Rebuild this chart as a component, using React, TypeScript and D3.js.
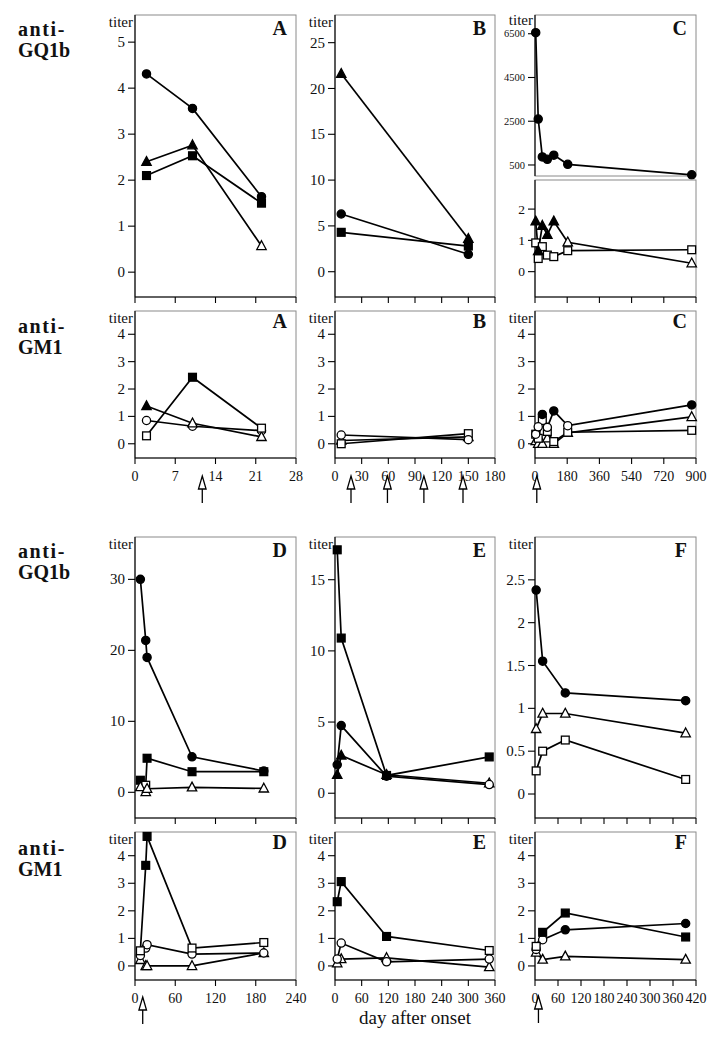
import React from "react";
import * as d3 from "d3";

// ---------- DATA ----------
const ticksA = [0, 7, 14, 21, 28];
const ticksB = [0, 30, 60, 90, 120, 150, 180];
const ticksC = [0, 180, 360, 540, 720, 900];
const ticksD = [0, 60, 120, 180, 240];
const ticksE = [0, 60, 120, 180, 240, 300, 360];
const ticksF = [0, 60, 120, 180, 240, 300, 360, 420];

const yTicksGQ_A = [0, 1, 2, 3, 4, 5];
const yTicksGQ_B = [0, 5, 10, 15, 20, 25];
const yTicksGQ_Cup = [500, 2500, 4500, 6500];
const yTicksGQ_Clo = [0, 1, 2];
const yTicksGM = [0, 1, 2, 3, 4];
const yTicksGQ_D = [0, 10, 20, 30];
const yTicksGQ_E = [0, 5, 10, 15];
const yTicksGQ_F = [0, 0.5, 1, 1.5, 2, 2.5];

const daysA = [2, 10, 22];
const daysB = [7, 150];
const daysC = [4, 18, 41, 69, 105, 183, 876];
const daysD = [8, 16, 18, 85, 192];
const daysE = [5, 14, 116, 347];
const daysF = [3, 20, 79, 393];

// anti-GQ1b
const gqA_circle = [4.31, 3.56, 1.64];
const gqA_circleFill = [1, 1, 1];
const gqA_triangle = [2.4, 2.76, 0.57];
const gqA_triangleFill = [1, 1, 0];
const gqA_square = [2.1, 2.53, 1.5];
const gqA_squareFill = [1, 1, 1];

const gqB_triangle = [21.6, 3.6];
const gqB_triangleFill = [1, 1];
const gqB_circle = [6.3, 1.9];
const gqB_circleFill = [1, 1];
const gqB_square = [4.3, 2.8];
const gqB_squareFill = [1, 1];

const gqC_circle = [6550, 2600, 870, 760, 950, 530, 50];
const gqC_circleFill = [1, 1, 1, 1, 1, 1, 1];
const gqC_triangle = [1.61, 0.66, 1.47, 1.18, 1.61, 0.94, 0.27];
const gqC_triangleFill = [1, 1, 1, 1, 1, 0, 0];
const gqC_square = [0.92, 0.42, 0.8, 0.53, 0.48, 0.67, 0.7];
const gqC_squareFill = [0, 0, 0, 0, 0, 0, 0];

const gqD_circle = [30, 21.4, 19, 5.0, 3.0];
const gqD_circleFill = [1, 1, 1, 1, 1];
const gqD_square = [1.7, 1.0, 4.8, 2.9, 2.9];
const gqD_squareFill = [1, 0, 1, 1, 1];
const gqD_triangle = [0.75, 0.05, 0.5, 0.7, 0.55];
const gqD_triangleFill = [0, 0, 0, 0, 0];

const gqE_square = [17.1, 10.9, 1.25, 2.55];
const gqE_squareFill = [1, 1, 1, 1];
const gqE_circle = [2.0, 4.75, 1.2, 0.61];
const gqE_circleFill = [1, 1, 1, 0];
const gqE_triangle = [1.3, 2.65, 1.3, 0.7];
const gqE_triangleFill = [1, 1, 1, 0];

const gqF_circle = [2.38, 1.55, 1.18, 1.09];
const gqF_circleFill = [1, 1, 1, 1];
const gqF_triangle = [0.76, 0.94, 0.94, 0.71];
const gqF_triangleFill = [0, 0, 0, 0];
const gqF_square = [0.27, 0.5, 0.63, 0.17];
const gqF_squareFill = [0, 0, 0, 0];

// anti-GM1
const gmA_square = [0.29, 2.43, 0.57];
const gmA_squareFill = [0, 1, 0];
const gmA_triangle = [1.38, 0.75, 0.25];
const gmA_triangleFill = [1, 0, 0];
const gmA_circle = [0.85, 0.64, 0.48];
const gmA_circleFill = [0, 0, 0];

const gmB_circle = [0.32, 0.15];
const gmB_circleFill = [0, 0];
const gmB_triangle = [0.12, 0.25];
const gmB_triangleFill = [0, 0];
const gmB_square = [0.0, 0.37];
const gmB_squareFill = [0, 0];

const gmC_circle = [0.35, 0.62, 1.07, 0.6, 1.2, 0.66, 1.42];
const gmC_circleFill = [0, 0, 1, 0, 1, 0, 1];
const gmC_triangle = [0.1, 0.0, 0.0, 0.2, 0.0, 0.4, 0.98];
const gmC_triangleFill = [0, 0, 0, 0, 0, 0, 0];
const gmC_square = [0.35, 0.2, 0.85, 0.45, 0.08, 0.42, 0.49];
const gmC_squareFill = [0, 0, 0, 0, 0, 0, 0];

const gmD_square = [0.55, 3.65, 4.7, 0.65, 0.85];
const gmD_squareFill = [0, 1, 1, 0, 0];
const gmD_circle = [0.38, 0.65, 0.77, 0.43, 0.47];
const gmD_circleFill = [0, 0, 0, 0, 0];
const gmD_triangle = [0.22, 0.0, 0.0, 0.0, 0.47];
const gmD_triangleFill = [0, 0, 0, 0, 0];

const gmE_square = [2.33, 3.06, 1.07, 0.56];
const gmE_squareFill = [1, 1, 1, 0];
const gmE_circle = [0.25, 0.83, 0.15, 0.25];
const gmE_circleFill = [0, 0, 0, 0];
const gmE_triangle = [0.1, 0.25, 0.29, -0.04];
const gmE_triangleFill = [0, 0, 0, 0];

const gmF_square = [0.71, 1.22, 1.92, 1.05];
const gmF_squareFill = [0, 1, 1, 1];
const gmF_circle = [0.6, 0.95, 1.31, 1.54];
const gmF_circleFill = [0, 0, 1, 1];
const gmF_triangle = [0.49, 0.23, 0.35, 0.23];
const gmF_triangleFill = [0, 0, 0, 0];

// treatment arrows (day)
const arrowsA = [11.7];
const arrowsB = [18, 59, 100, 144];
const arrowsC = [10];
const arrowsD = [11.5];
const arrowsF = [9];

// ---------- LAYOUT ----------
const FONT = "Liberation Serif, DejaVu Serif, serif";
const COLS = [
  [135, 296],
  [335, 495],
  [535, 696],
];

type Series = { shape: string; values: number[]; filled: number[] };
const S = (shape: string, values: number[], filled: number[]): Series => ({ shape, values, filled });

function Marker({ shape, x, y, filled }: { shape: string; x: number; y: number; filled: boolean }) {
  const fill = filled ? "#000" : "#fff";
  const common = { fill, stroke: "#000", strokeWidth: 1.3 };
  if (shape === "circle") return <circle cx={x} cy={y} r={4.1} {...common} />;
  if (shape === "square") return <rect x={x - 3.9} y={y - 3.9} width={7.8} height={7.8} {...common} />;
  const p = `M${x},${y - 5.2}L${x + 4.7},${y + 3.6}L${x - 4.7},${y + 3.6}Z`;
  return <path d={p} {...common} />;
}

function Frame(props: {
  col: number;
  top: number;
  bottom: number;
  xMax: number;
  xTicks: number[];
  yDomain: [number, number];
  yTicks: number[];
  days: number[];
  series: Series[];
  letter?: string;
  letterDy?: number;
  titer?: boolean;
  titerDy?: number;
  xAxis?: boolean;
  xLabels?: boolean;
  ySize?: number;
  arrows?: number[];
  arrowTop?: number;
}) {
  const [left, right] = COLS[props.col];
  const { top, bottom } = props;
  const sx = d3.scaleLinear().domain([0, props.xMax]).range([left, right]);
  const sy = d3.scaleLinear().domain(props.yDomain).range([bottom, top]);
  const line = d3
    .line<[number, number]>()
    .x((d) => sx(d[0]))
    .y((d) => sy(d[1]));
  const ySize = props.ySize ?? 15;
  const fmt = (v: number) => String(v);
  return (
    <g>
      <rect x={left} y={top} width={right - left} height={bottom - top} fill="none" stroke="#8a8a8a" strokeWidth={1} />
      <line x1={left} x2={left} y1={top} y2={bottom} stroke="#000" strokeWidth={1.1} />
      {props.yTicks.map((t) => (
        <g key={"y" + t}>
          <line x1={left - 7} x2={left} y1={sy(t)} y2={sy(t)} stroke="#000" strokeWidth={1.1} />
          <text x={left - 10} y={sy(t) + ySize * 0.34} textAnchor="end" fontSize={ySize} fontFamily={FONT} fill="#111">
            {fmt(t)}
          </text>
        </g>
      ))}
      {props.xAxis && (
        <g>
          <line x1={left} x2={right} y1={bottom} y2={bottom} stroke="#000" strokeWidth={1.1} />
          {props.xTicks.map((t) => (
            <g key={"x" + t}>
              <line x1={sx(t)} x2={sx(t)} y1={bottom} y2={bottom + 6} stroke="#000" strokeWidth={1.1} />
              {props.xLabels && (
                <text x={sx(t)} y={bottom + 23} textAnchor="middle" fontSize={14} fontFamily={FONT} fill="#111">
                  {t}
                </text>
              )}
            </g>
          ))}
        </g>
      )}
      {props.series.map((s, i) => (
        <path
          key={"l" + i}
          d={line(props.days.map((d, j) => [d, s.values[j]] as [number, number])) || ""}
          fill="none"
          stroke="#000"
          strokeWidth={1.7}
        />
      ))}
      {props.series.map((s, i) => (
        <g key={"m" + i}>
          {props.days.map((d, j) => (
            <Marker key={j} shape={s.shape} x={sx(d)} y={sy(s.values[j])} filled={s.filled[j] === 1} />
          ))}
        </g>
      ))}
      {props.titer && (
        <text x={left - 2} y={top + (props.titerDy ?? 12)} textAnchor="end" fontSize={15} fontFamily={FONT} fill="#111">
          titer
        </text>
      )}
      {props.letter && (
        <text
          x={right - 9}
          y={top + (props.letterDy ?? 19)}
          textAnchor="end"
          fontSize={20}
          fontWeight="bold"
          fontFamily={FONT}
          fill="#111"
        >
          {props.letter}
        </text>
      )}
      {props.arrows &&
        props.arrows.map((a, i) => {
          const x = sx(a);
          const t = props.arrowTop ?? 0;
          return (
            <g key={"a" + i} stroke="#000" strokeWidth={1.3} fill="#fff">
              <line x1={x} x2={x} y1={t + 12} y2={t + 27} />
              <path d={`M${x},${t}L${x + 3.8},${t + 13}L${x - 3.8},${t + 13}Z`} />
            </g>
          );
        })}
    </g>
  );
}

function RowLabel({ y, name }: { y: number; name: string }) {
  return (
    <g fontFamily={FONT} fontWeight="bold" fontSize={20} fill="#111">
      <text x={18} y={y} letterSpacing={1.6}>
        anti-
      </text>
      <text x={18} y={y + 21}>
        {name}
      </text>
    </g>
  );
}

export default function App() {
  const r1gq: [number, number] = [15, 297];
  const r1gm: [number, number] = [311, 458];
  const r2gq: [number, number] = [537, 818];
  const r2gm: [number, number] = [832, 980];
  return (
    <svg width={721} height={1039} style={{ position: "absolute", left: 0, top: 0, background: "#fff" }}>
      <rect width={721} height={1039} fill="#fff" />
      <RowLabel y={36} name="GQ1b" />
      <RowLabel y={333} name="GM1" />
      <RowLabel y={558} name="GQ1b" />
      <RowLabel y={855} name="GM1" />

      {/* Row 1 anti-GQ1b */}
      <Frame
        col={0}
        top={r1gq[0]}
        bottom={r1gq[1]}
        xMax={28}
        xTicks={ticksA}
        yDomain={[-0.54, 5.59]}
        yTicks={yTicksGQ_A}
        days={daysA}
        series={[
          S("square", gqA_square, gqA_squareFill),
          S("triangle", gqA_triangle, gqA_triangleFill),
          S("circle", gqA_circle, gqA_circleFill),
        ]}
        letter="A"
        letterDy={20}
        titer
        xAxis
      />
      <Frame
        col={1}
        top={r1gq[0]}
        bottom={r1gq[1]}
        xMax={180}
        xTicks={ticksB}
        yDomain={[-2.76, 28.02]}
        yTicks={yTicksGQ_B}
        days={daysB}
        series={[
          S("square", gqB_square, gqB_squareFill),
          S("circle", gqB_circle, gqB_circleFill),
          S("triangle", gqB_triangle, gqB_triangleFill),
        ]}
        letter="B"
        letterDy={20}
        titer
        xAxis
      />
      <Frame
        col={2}
        top={r1gq[0]}
        bottom={176}
        xMax={900}
        xTicks={ticksC}
        yDomain={[-4, 7357]}
        yTicks={yTicksGQ_Cup}
        ySize={10.5}
        days={daysC}
        series={[S("circle", gqC_circle, gqC_circleFill)]}
        letter="C"
        letterDy={20}
        titer
        titerDy={10}
      />
      <Frame
        col={2}
        top={180}
        bottom={r1gq[1]}
        xMax={900}
        xTicks={ticksC}
        yDomain={[-0.81, 2.93]}
        yTicks={yTicksGQ_Clo}
        ySize={13.5}
        days={daysC}
        series={[S("square", gqC_square, gqC_squareFill), S("triangle", gqC_triangle, gqC_triangleFill)]}
        xAxis
      />

      {/* Row 1 anti-GM1 */}
      <Frame
        col={0}
        top={r1gm[0]}
        bottom={r1gm[1]}
        xMax={28}
        xTicks={ticksA}
        yDomain={[-0.52, 4.85]}
        yTicks={yTicksGM}
        days={daysA}
        series={[
          S("circle", gmA_circle, gmA_circleFill),
          S("triangle", gmA_triangle, gmA_triangleFill),
          S("square", gmA_square, gmA_squareFill),
        ]}
        letter="A"
        letterDy={17}
        titer
        xAxis
        xLabels
        arrows={arrowsA}
        arrowTop={476}
      />
      <Frame
        col={1}
        top={r1gm[0]}
        bottom={r1gm[1]}
        xMax={180}
        xTicks={ticksB}
        yDomain={[-0.52, 4.85]}
        yTicks={yTicksGM}
        days={daysB}
        series={[
          S("triangle", gmB_triangle, gmB_triangleFill),
          S("square", gmB_square, gmB_squareFill),
          S("circle", gmB_circle, gmB_circleFill),
        ]}
        letter="B"
        letterDy={17}
        titer
        xAxis
        xLabels
        arrows={arrowsB}
        arrowTop={476}
      />
      <Frame
        col={2}
        top={r1gm[0]}
        bottom={r1gm[1]}
        xMax={900}
        xTicks={ticksC}
        yDomain={[-0.52, 4.85]}
        yTicks={yTicksGM}
        days={daysC}
        series={[
          S("triangle", gmC_triangle, gmC_triangleFill),
          S("square", gmC_square, gmC_squareFill),
          S("circle", gmC_circle, gmC_circleFill),
        ]}
        letter="C"
        letterDy={17}
        titer
        xAxis
        xLabels
        arrows={arrowsC}
        arrowTop={476}
      />

      {/* Row 2 anti-GQ1b */}
      <Frame
        col={0}
        top={r2gq[0]}
        bottom={r2gq[1]}
        xMax={240}
        xTicks={ticksD}
        yDomain={[-3.62, 35.97]}
        yTicks={yTicksGQ_D}
        days={daysD}
        series={[
          S("circle", gqD_circle, gqD_circleFill),
          S("square", gqD_square, gqD_squareFill),
          S("triangle", gqD_triangle, gqD_triangleFill),
        ]}
        letter="D"
        letterDy={20}
        titer
        xAxis
      />
      <Frame
        col={1}
        top={r2gq[0]}
        bottom={r2gq[1]}
        xMax={360}
        xTicks={ticksE}
        yDomain={[-1.74, 18.0]}
        yTicks={yTicksGQ_E}
        days={daysE}
        series={[
          S("triangle", gqE_triangle, gqE_triangleFill),
          S("circle", gqE_circle, gqE_circleFill),
          S("square", gqE_square, gqE_squareFill),
        ]}
        letter="E"
        letterDy={20}
        titer
        xAxis
      />
      <Frame
        col={2}
        top={r2gq[0]}
        bottom={r2gq[1]}
        xMax={420}
        xTicks={ticksF}
        yDomain={[-0.28, 3.0]}
        yTicks={yTicksGQ_F}
        days={daysF}
        series={[
          S("circle", gqF_circle, gqF_circleFill),
          S("triangle", gqF_triangle, gqF_triangleFill),
          S("square", gqF_square, gqF_squareFill),
        ]}
        letter="F"
        letterDy={20}
        titer
        xAxis
      />

      {/* Row 2 anti-GM1 */}
      <Frame
        col={0}
        top={r2gm[0]}
        bottom={r2gm[1]}
        xMax={240}
        xTicks={ticksD}
        yDomain={[-0.51, 4.86]}
        yTicks={yTicksGM}
        days={daysD}
        series={[
          S("triangle", gmD_triangle, gmD_triangleFill),
          S("circle", gmD_circle, gmD_circleFill),
          S("square", gmD_square, gmD_squareFill),
        ]}
        letter="D"
        letterDy={17}
        titer
        xAxis
        xLabels
        arrows={arrowsD}
        arrowTop={997}
      />
      <Frame
        col={1}
        top={r2gm[0]}
        bottom={r2gm[1]}
        xMax={360}
        xTicks={ticksE}
        yDomain={[-0.51, 4.86]}
        yTicks={yTicksGM}
        days={daysE}
        series={[
          S("triangle", gmE_triangle, gmE_triangleFill),
          S("circle", gmE_circle, gmE_circleFill),
          S("square", gmE_square, gmE_squareFill),
        ]}
        letter="E"
        letterDy={17}
        titer
        xAxis
        xLabels
      />
      <Frame
        col={2}
        top={r2gm[0]}
        bottom={r2gm[1]}
        xMax={420}
        xTicks={ticksF}
        yDomain={[-0.51, 4.86]}
        yTicks={yTicksGM}
        days={daysF}
        series={[
          S("triangle", gmF_triangle, gmF_triangleFill),
          S("circle", gmF_circle, gmF_circleFill),
          S("square", gmF_square, gmF_squareFill),
        ]}
        letter="F"
        letterDy={17}
        titer
        xAxis
        xLabels
        arrows={arrowsF}
        arrowTop={996}
      />

      <text x={415} y={1024} textAnchor="middle" fontSize={19} fontFamily={FONT} fill="#111">
        day after onset
      </text>
    </svg>
  );
}
